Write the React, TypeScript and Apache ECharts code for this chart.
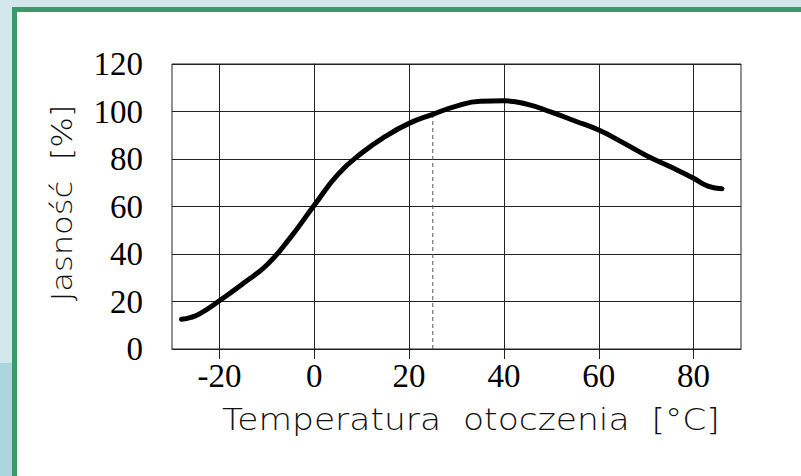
import React, { useEffect, useRef } from "react";
import * as echarts from "echarts";

const temps = [-28, -26, -24, -20, -15, -10, -5, 0, 5, 10, 15, 20, 25, 30, 35, 40, 45, 50, 55, 60, 65, 70, 75, 80, 83, 86];
const brightness = [12.5, 13.3, 15, 20.3, 27.6, 35.4, 47, 60.5, 73.5, 82.5, 89.5, 95, 98.8, 102.3, 104.3, 104.5, 103, 99.7, 96, 92.2, 87, 81.5, 76.8, 71.9, 68.6, 67.5];
const refTemp = 25;
const refValue = 98.8;
const xTickValues = [-20, 0, 20, 40, 60, 80];
const yTickValues = [20, 40, 60, 80, 100, 120];
const yLabelValues = [0, 20, 40, 60, 80, 100, 120];
const xName = "Temperatura  otoczenia  [°C]";
const yName = "Jasność  [%]";

export default function App() {
  const ref = useRef<HTMLDivElement>(null);
  useEffect(() => {
    if (!ref.current) return;
    const chart = echarts.init(ref.current, null, { renderer: "svg" });
    const thinFont = "'DejaVu Sans Light', 'DejaVu Sans ExtraLight', 'DejaVu Sans', sans-serif";
    chart.setOption({
      animation: false,
      backgroundColor: "#d4e7ea",
      graphic: [
        { type: "rect", z: -10, shape: { x: 0, y: 363, width: 12, height: 113 }, style: { fill: "#acd5dd" } },
        { type: "rect", z: -10, shape: { x: 12, y: 7, width: 789, height: 469 }, style: { fill: "#3a9a6a" } },
        { type: "rect", z: -10, shape: { x: 17, y: 12, width: 784, height: 464 }, style: { fill: "#ffffff" } },
        {
          type: "text",
          x: 222,
          y: 420,
          scaleX: 1.15,
          style: { text: xName, font: `200 30px ${thinFont}`, fill: "#111", verticalAlign: "middle" },
        },
        {
          type: "text",
          x: 62,
          y: 203,
          rotation: Math.PI / 2,
          scaleX: 1.15,
          style: { text: yName, font: `200 28px ${thinFont}`, fill: "#111", align: "center", verticalAlign: "middle" },
        },
      ],
      grid: { left: 172, right: 60, top: 64, bottom: 127, show: true, borderColor: "#222", borderWidth: 1 },
      xAxis: {
        type: "value",
        min: -30,
        max: 90,
        interval: 10,
        axisLine: { show: true, lineStyle: { color: "#222", width: 1 } },
        axisTick: { show: true, inside: false, length: 10, customValues: xTickValues, lineStyle: { color: "#222" } },
        axisLabel: {
          customValues: xTickValues,
          margin: 10,
          color: "#000",
          fontFamily: "'Liberation Serif', 'Times New Roman', serif",
          fontSize: 33,
        },
        splitLine: { show: true, lineStyle: { color: "#222", width: 1 } },
      },
      yAxis: {
        type: "value",
        min: 0,
        max: 120,
        interval: 20,
        axisLine: { show: true, lineStyle: { color: "#222", width: 1 } },
        axisTick: { show: true, inside: false, length: 10, customValues: yTickValues, lineStyle: { color: "#222" } },
        axisLabel: {
          customValues: yLabelValues,
          margin: 29,
          color: "#000",
          fontFamily: "'Liberation Serif', 'Times New Roman', serif",
          fontSize: 33,
        },
        splitLine: { show: true, lineStyle: { color: "#222", width: 1 } },
      },
      series: [
        {
          type: "line",
          data: [[refTemp, 0], [refTemp, refValue]],
          symbol: "none",
          lineStyle: { color: "#555", width: 1, type: [4, 3] },
          z: 2,
        },
        {
          type: "line",
          data: temps.map((t, i) => [t, brightness[i]]),
          smooth: true,
          symbol: "none",
          lineStyle: { color: "#000", width: 5, cap: "round", join: "round" },
          z: 3,
        },
      ],
    });
    return () => chart.dispose();
  }, []);
  return <div ref={ref} style={{ position: "fixed", left: 0, top: 0, width: 801, height: 476 }} />;
}
